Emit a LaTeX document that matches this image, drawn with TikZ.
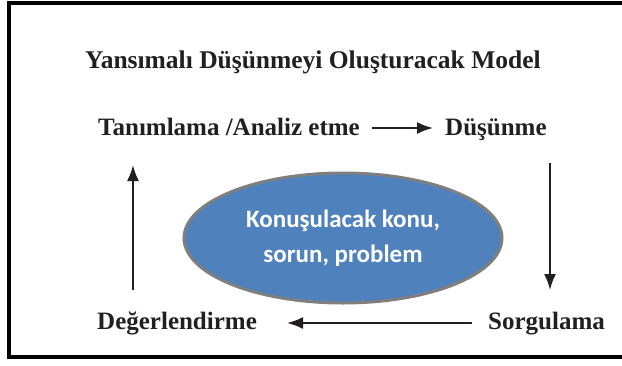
\documentclass[tikz,border=0pt]{standalone}
\usepackage{fontspec}
\setmainfont{Liberation Serif}
\newfontfamily\ovalfont{Carlito}
\usetikzlibrary{arrows.meta,shapes.geometric}
\definecolor{ovalblue}{HTML}{4F81BD}
\definecolor{ovalrim}{HTML}{7F7F7F}
\definecolor{inkdark}{HTML}{231F20}
\begin{document}
\begin{tikzpicture}
		[x=1pt,y=-1pt,
		step label/.style={anchor=base west, inner sep=0pt,
			font=\fontsize{25}{28}\selectfont\bfseries, text=inkdark},
		flow/.style={-{Latex[length=16pt,width=12pt]}, line width=2pt, inkdark},
		topic/.style={ellipse, fill=ovalblue, draw=ovalrim, line width=3pt,
			minimum width=318pt, minimum height=130pt, inner sep=0pt,
			text=white, align=center, font=\ovalfont\fontsize{25}{35}\selectfont\bfseries}]
		\useasboundingbox (0,0) rectangle (622,365);
		\draw[line width=4pt] (640,3) -- (8.5,3) -- (8.5,357) -- (640,357);
		\node[step label, font=\fontsize{25.5}{28}\selectfont\bfseries] (title) at (85,68) {Yansımalı Düşünmeyi Oluşturacak Model};
		\node[step label] (tanim) at (98,135) {Tanımlama /Analiz etme};
		\node[step label] (dusun) at (445,135) {Düşünme};
		\node[step label] (sorgu) at (488,329) {Sorgulama};
		\node[step label] (deger) at (97,329) {Değerlendirme};
		\node[topic] (konu) at (343,238) {Konuşulacak konu,\\sorun, problem};
		% arrow ends
		\coordinate (toptail) at (372,128);
		\coordinate (tophead) at (433,128);
		\coordinate (downtop) at (550,163);
		\coordinate (downhead) at (550,290);
		\coordinate (lowtail) at (472,323);
		\coordinate (lowhead) at (287,323);
		\coordinate (upfoot) at (133,290);
		\coordinate (uphead) at (133,165);
		\draw[flow] (toptail) -- (tophead);
		\draw[flow] (downtop) -- (downhead);
		\draw[flow] (lowtail) -- (lowhead);
		\draw[flow] (upfoot) -- (uphead);
	\end{tikzpicture}
\end{document}
